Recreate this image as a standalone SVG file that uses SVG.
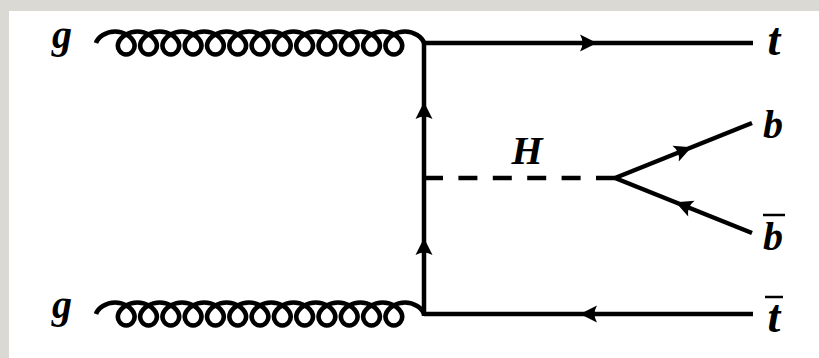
<svg xmlns="http://www.w3.org/2000/svg" xmlns:xlink="http://www.w3.org/1999/xlink" width="819" height="358" viewBox="0 0 819 358">
  <style>
    .ln { fill: none; stroke: #000; stroke-width: 4.5; }
    .gl { fill: none; stroke: #000; stroke-width: 4.6; }
    .dash { fill: none; stroke: #000; stroke-width: 4.5; stroke-dasharray: 19 15.4; }
    .lbl { font-family: "Liberation Serif", "Times New Roman", serif; font-style: italic; font-weight: bold; font-size: 40px; fill: #000; text-anchor: middle; }
    .tl { font-size: 46px; }
    .bar { stroke: #000; stroke-width: 2.5; }
  </style>
  <defs>
    <path id="ah" d="M0,0 L-17,-8.5 Q-12,0 -17,8.5 Z" fill="#000"/>
  </defs>
  <rect x="0" y="0" width="819" height="358" fill="#dbd9d4"/>
  <rect x="9" y="11" width="810" height="347" fill="#ffffff"/>

  <g id="connectors">
    <path id="gluon-top" class="gl" d="M96,43 c1.858,-6.021 10.148,-11.5 19.075,-11.5 c8.927,0 17.217,5.479 19.075,11.5 c1.858,6.021 -2.715,11.5 -7.925,11.5 c-5.21,0 -9.783,-5.479 -7.925,-11.5 c1.858,-6.021 10.148,-11.5 19.075,-11.5 c8.927,0 17.217,5.479 19.075,11.5 c1.858,6.021 -2.715,11.5 -7.925,11.5 c-5.21,0 -9.783,-5.479 -7.925,-11.5 c1.858,-6.021 10.148,-11.5 19.075,-11.5 c8.927,0 17.217,5.479 19.075,11.5 c1.858,6.021 -2.715,11.5 -7.925,11.5 c-5.21,0 -9.783,-5.479 -7.925,-11.5 c1.858,-6.021 10.148,-11.5 19.075,-11.5 c8.927,0 17.217,5.479 19.075,11.5 c1.858,6.021 -2.715,11.5 -7.925,11.5 c-5.21,0 -9.783,-5.479 -7.925,-11.5 c1.858,-6.021 10.148,-11.5 19.075,-11.5 c8.927,0 17.217,5.479 19.075,11.5 c1.858,6.021 -2.715,11.5 -7.925,11.5 c-5.21,0 -9.783,-5.479 -7.925,-11.5 c1.858,-6.021 10.148,-11.5 19.075,-11.5 c8.927,0 17.217,5.479 19.075,11.5 c1.858,6.021 -2.715,11.5 -7.925,11.5 c-5.21,0 -9.783,-5.479 -7.925,-11.5 c1.858,-6.021 10.148,-11.5 19.075,-11.5 c8.927,0 17.217,5.479 19.075,11.5 c1.858,6.021 -2.715,11.5 -7.925,11.5 c-5.21,0 -9.783,-5.479 -7.925,-11.5 c1.858,-6.021 10.148,-11.5 19.075,-11.5 c8.927,0 17.217,5.479 19.075,11.5 c1.858,6.021 -2.715,11.5 -7.925,11.5 c-5.21,0 -9.783,-5.479 -7.925,-11.5 c1.858,-6.021 10.148,-11.5 19.075,-11.5 c8.927,0 17.217,5.479 19.075,11.5 c1.858,6.021 -2.715,11.5 -7.925,11.5 c-5.21,0 -9.783,-5.479 -7.925,-11.5 c1.858,-6.021 10.148,-11.5 19.075,-11.5 c8.927,0 17.217,5.479 19.075,11.5 c1.858,6.021 -2.715,11.5 -7.925,11.5 c-5.21,0 -9.783,-5.479 -7.925,-11.5 c1.858,-6.021 10.148,-11.5 19.075,-11.5 c8.927,0 17.217,5.479 19.075,11.5 c1.858,6.021 -2.715,11.5 -7.925,11.5 c-5.21,0 -9.783,-5.479 -7.925,-11.5 c1.858,-6.021 10.148,-11.5 19.075,-11.5 c8.927,0 17.217,5.479 19.075,11.5 c1.858,6.021 -2.715,11.5 -7.925,11.5 c-5.21,0 -9.783,-5.479 -7.925,-11.5 c1.858,-6.021 10.148,-11.5 19.075,-11.5 c8.927,0 17.217,5.479 19.075,11.5 c1.858,6.021 -2.715,11.5 -7.925,11.5 c-5.21,0 -9.783,-5.479 -7.925,-11.5 c1.858,-6.021 10.148,-11.5 19.075,-11.5 c8.927,0 17.217,5.479 19.075,11.5"/>
    <use xlink:href="#gluon-top" transform="translate(0,271)"/>
    <path class="ln" d="M424,43 H753"/>
    <path class="ln" d="M424,41 V316"/>
    <path class="ln" d="M424,314 H753"/>
    <path class="dash" d="M424,178 H615"/>
    <path class="ln" d="M615,178 L752,123"/>
    <path class="ln" d="M615,178 L752,233"/>
    <use xlink:href="#ah" transform="translate(597,43)"/>
    <use xlink:href="#ah" transform="translate(580,314) rotate(180)"/>
    <use xlink:href="#ah" transform="translate(424,102) rotate(-90)"/>
    <use xlink:href="#ah" transform="translate(424,238) rotate(-90)"/>
    <use xlink:href="#ah" transform="translate(691.4,147.3) rotate(-21.87)"/>
    <use xlink:href="#ah" transform="translate(675.6,202.3) rotate(201.87)"/>
  </g>

  <g id="label-g-top"><text class="lbl" x="62" y="48">g</text></g>
  <g id="label-g-bottom"><text class="lbl" x="62" y="318">g</text></g>
  <g id="label-t"><text class="lbl tl" x="774" y="55">t</text></g>
  <g id="label-tbar"><text class="lbl tl" x="774" y="332">t</text><line class="bar" x1="765" y1="297" x2="783" y2="297"/></g>
  <g id="label-b"><text class="lbl" x="773" y="138">b</text></g>
  <g id="label-bbar"><text class="lbl" x="773" y="250">b</text><line class="bar" x1="763" y1="215" x2="785" y2="215"/></g>
  <g id="label-H"><text class="lbl" x="527" y="164">H</text></g>
</svg>
